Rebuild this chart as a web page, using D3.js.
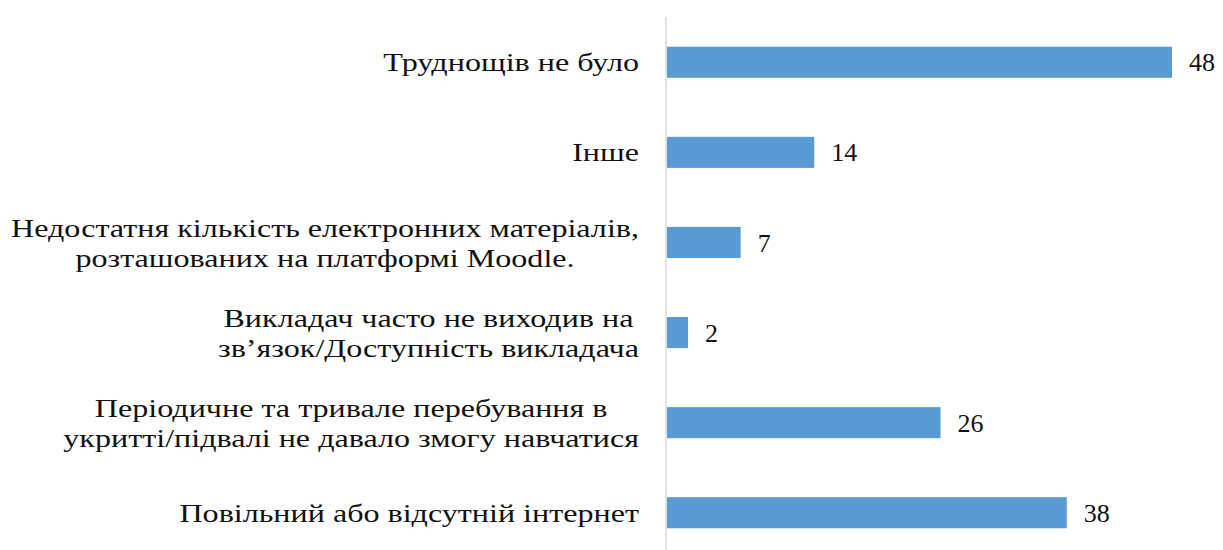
<!DOCTYPE html>
<html lang="uk">
<head>
<meta charset="utf-8">
<script src="https://cdn.jsdelivr.net/npm/d3@7/dist/d3.min.js"></script>
<style>
  html, body { margin: 0; padding: 0; background: #fff; }
  svg { display: block; }
</style>
</head>
<body>
<svg id="chart" width="1223" height="550"></svg>
<script>
// ---- data ----
const categories = [
  ["Труднощів не було"],
  ["Інше"],
  ["Недостатня кількість  електронних матеріалів,", "розташованих на платформі Moodle."],
  ["Викладач часто не виходив на", "зв’язок/Доступність викладача"],
  ["Періодичне та тривале перебування в", "укритті/підвалі не давало змогу навчатися"],
  ["Повільний або відсутній інтернет"]
];
const values = [48, 14, 7, 2, 26, 38];

// ---- layout ----
const FONT = "Tinos, 'Liberation Serif', 'Times New Roman', serif";
const axisX = 666;
const svg = d3.select("#chart");

const x = d3.scaleLinear().domain([0, 48]).range([axisX, 1171]);
const y = d3.scaleBand()
  .domain(d3.range(categories.length))
  .range([17, 558])
  .paddingInner(0.655)
  .paddingOuter(0.33);

// axis line (category axis)
const yAxis = d3.axisLeft(y).tickSize(0).tickFormat("");
const axG = svg.append("g").attr("transform", `translate(${axisX},0)`).call(yAxis);
axG.select(".domain").attr("stroke", "#d0d0d0").attr("stroke-width", 1.2)
  .attr("d", `M0,17V550`);

// bars
svg.append("g").selectAll("rect")
  .data(values)
  .join("rect")
  .attr("x", x(0) + 1)
  .attr("y", (d, i) => y(i))
  .attr("width", d => x(d) - x(0))
  .attr("height", y.bandwidth())
  .attr("fill", "#5b9bd5");

// value labels
svg.append("g").selectAll("text")
  .data(values)
  .join("text")
  .attr("font-family", FONT)
  .attr("x", d => x(d) + 18)
  .attr("y", (d, i) => y(i) + y.bandwidth() / 2)
  .attr("dy", "0.35em")
  .attr("font-size", 26)
  .attr("fill", "#111")
  .text(d => d);

// category labels: each line its own text, lines centred within a right-aligned block
const labelRight = 639;
const lineH = 30;
const widest = 628; // reference width of the widest label line, px
const texts = [];
categories.forEach((lines, i) => {
  const cy = y(i) + y.bandwidth() / 2;
  lines.forEach((ln, j) => texts.push({ i, j, n: lines.length, ln, cy,
    t: svg.append("text")
      .attr("font-family", FONT)
      .attr("font-size", 26)
      .attr("fill", "#111")
      .attr("y", cy + (j - (lines.length - 1) / 2) * lineH)
      .attr("dy", "0.35em")
      .text(ln) }));
});
texts.forEach(d => d.w = d.t.node().getComputedTextLength());
const sx = widest / d3.max(texts, d => d.w);
d3.groups(texts, d => d.i).forEach(([i, group]) => {
  const maxW = d3.max(group, d => d.w) * sx;
  group.forEach(d => {
    const w = d.w * sx;
    d.t.attr("x", labelRight - maxW / 2 - w / 2)
       .attr("textLength", w)
       .attr("lengthAdjust", "spacingAndGlyphs");
  });
});
</script>
</body>
</html>
